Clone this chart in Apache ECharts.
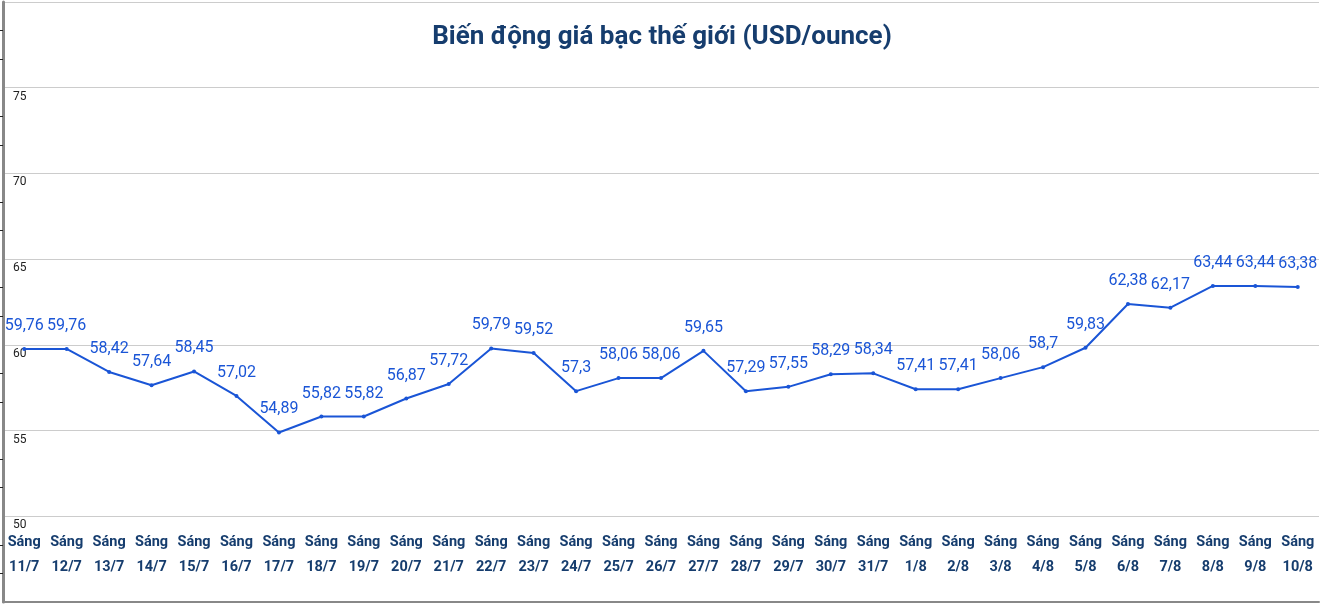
<!DOCTYPE html><html><head><meta charset="utf-8"><script src="https://cdn.jsdelivr.net/npm/echarts@6/dist/echarts.min.js"></script>
<style>html,body{margin:0;padding:0;background:#fff}#c{width:1324px;height:605px}</style></head><body><div id="c"></div>
<script>
const categories=["Sáng\n11/7","Sáng\n12/7","Sáng\n13/7","Sáng\n14/7","Sáng\n15/7","Sáng\n16/7","Sáng\n17/7","Sáng\n18/7","Sáng\n19/7","Sáng\n20/7","Sáng\n21/7","Sáng\n22/7","Sáng\n23/7","Sáng\n24/7","Sáng\n25/7","Sáng\n26/7","Sáng\n27/7","Sáng\n28/7","Sáng\n29/7","Sáng\n30/7","Sáng\n31/7","Sáng\n1/8","Sáng\n2/8","Sáng\n3/8","Sáng\n4/8","Sáng\n5/8","Sáng\n6/8","Sáng\n7/8","Sáng\n8/8","Sáng\n9/8","Sáng\n10/8"];
const prices=[59.76,59.76,58.42,57.64,58.45,57.02,54.89,55.82,55.82,56.87,57.72,59.79,59.52,57.3,58.06,58.06,59.65,57.29,57.55,58.29,58.34,57.41,57.41,58.06,58.7,59.83,62.38,62.17,63.44,63.44,63.38];
const chart=echarts.init(document.getElementById('c'));
chart.setOption({
 animation:false,
 title:{text:"Biến động giá bạc thế giới (USD/ounce)",left:'center',top:19,textStyle:{fontFamily:'Roboto',fontSize:26,fontWeight:'bold',color:'#163d6e'}},
 grid:{left:3,right:5,top:2,bottom:3,outerBoundsMode:'none',containLabel:false},
 xAxis:{type:'category',data:categories,boundaryGap:true,
  axisLine:{lineStyle:{color:'#888',width:2}},
  axisTick:{inside:true,alignWithLabel:true,length:4,lineStyle:{color:'#333'}},
  axisLabel:{inside:true,interval:0,margin:72,verticalAlign:'top',lineHeight:25,fontFamily:'Roboto',fontWeight:'bold',fontSize:14.5,color:'#163d6e'}},
 yAxis:{type:'value',min:45,max:80,interval:5,
  axisLine:{show:true,lineStyle:{color:'#888',width:3}},
  axisTick:{show:false},minorTick:{show:true,splitNumber:3,length:5,lineStyle:{color:'#222'}},
  splitLine:{lineStyle:{color:'#ccc'}},
  axisLabel:{inside:true,showMinLabel:false,showMaxLabel:false,margin:10,align:'left',verticalAlign:'top',padding:[3,0,0,0],fontFamily:'Roboto',fontSize:12,color:'#222'}},
 series:[{type:'line',data:prices,symbol:'circle',symbolSize:4,lineStyle:{color:'#1a55d6',width:2},itemStyle:{color:'#1a55d6'},
  label:{show:true,position:'top',distance:13,fontFamily:'Roboto',fontSize:16,color:'#1a55d6',formatter:p=>String(p.value).replace('.',',')}}]
});
</script></body></html>
